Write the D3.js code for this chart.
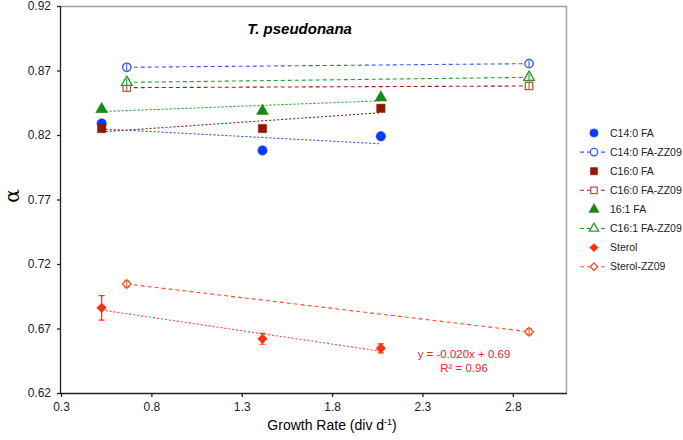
<!DOCTYPE html>
<html>
<head>
<meta charset="utf-8">
<script src="https://cdn.jsdelivr.net/npm/d3@7"></script>
<style>
  body { margin: 0; background: #fff; }
  svg { font-family: "Liberation Sans", Arial, sans-serif; }
</style>
</head>
<body>
<svg width="683" height="440"></svg>
<script>
// growth rates (div d-1)
var xThis = [0.525, 1.415, 2.07];
var xZZ09 = [0.664, 2.89];

// fractionation factor alpha
var c140 = [0.829, 0.808, 0.819];
var c140zz = [0.8725, 0.8753];
var c160 = [0.825, 0.825, 0.8407];
var c160zz = [0.8567, 0.858];
var c161 = [0.840, 0.8386, 0.849];
var c161zz = [0.8608, 0.8647];
var sterol = [0.686, 0.662, 0.6546];
var sterolzz = [0.7045, 0.6675];

// error bars
var sterolErr = [0.0095, 0.0042, 0.0035];
var zzErr = [0.0022, 0.0022];

var xTicks = [0.3, 0.8, 1.3, 1.8, 2.3, 2.8];
var yTicks = [0.62, 0.67, 0.72, 0.77, 0.82, 0.87, 0.92];

var series = [
  { name: 'C14:0 FA', x: xThis, y: c140, shape: 'circle', fill: '#0a3cf5', stroke: '#0a3cf5', line: '#2a4ee0', dash: '2,2', open: false },
  { name: 'C14:0 FA-ZZ09', x: xZZ09, y: c140zz, err: zzErr, shape: 'circle', fill: '#fff', stroke: '#3a5ce8', line: '#3a5ce8', dash: '4,3', open: true },
  { name: 'C16:0 FA', x: xThis, y: c160, shape: 'square', fill: '#8f1a00', stroke: '#8f1a00', line: '#8f1a00', dash: '2,2', open: false },
  { name: 'C16:0 FA-ZZ09', x: xZZ09, y: c160zz, err: zzErr, shape: 'square', fill: '#fff', stroke: '#b85a48', line: '#9a2010', dash: '4,3', open: true },
  { name: '16:1 FA', x: xThis, y: c161, shape: 'triangle', fill: '#158a15', stroke: '#158a15', line: '#20a020', dash: '2,2', open: false },
  { name: 'C16:1 FA-ZZ09', x: xZZ09, y: c161zz, err: zzErr, shape: 'triangle', fill: '#fff', stroke: '#2a9a2a', line: '#2a9a2a', dash: '4,3', open: true },
  { name: 'Sterol', x: xThis, y: sterol, err: sterolErr, shape: 'diamond', fill: '#ff3010', stroke: '#ff3010', line: '#f04a30', dash: '2,2', open: false },
  { name: 'Sterol-ZZ09', x: xZZ09, y: sterolzz, err: zzErr, shape: 'diamond', fill: '#fff', stroke: '#f0502a', line: '#f0502a', dash: '4,3', open: true }
];

var svg = d3.select('svg'),
    margin = { top: 6, right: 116, bottom: 47, left: 61 },
    width = +svg.attr('width') - margin.left - margin.right,
    height = +svg.attr('height') - margin.top - margin.bottom,
    g = svg.append('g').attr('transform', 'translate(' + margin.left + ',' + margin.top + ')');

var x = d3.scaleLinear().domain([0.3, 3.1]).range([0, width]);
var y = d3.scaleLinear().domain([0.62, 0.92]).range([height, 0]);

// frame (top and right in grey)
g.append('path')
    .attr('d', 'M0,0.5H' + (width - 0.5) + 'V' + height)
    .attr('fill', 'none')
    .attr('stroke', '#a0a0a0')
    .attr('stroke-width', 1.5);

g.append('g')
    .attr('class', 'axis axis--x')
    .attr('transform', 'translate(0,' + height + ')')
    .call(d3.axisBottom(x).tickValues(xTicks).tickSize(4).tickPadding(5).tickFormat(d3.format('.1f')))
    .call(function(a) { a.select('.domain').attr('d', 'M0,0.5H' + width); });

g.append('g')
    .attr('class', 'axis axis--y')
    .call(d3.axisLeft(y).tickValues(yTicks).tickSize(4).tickPadding(6).tickFormat(d3.format('.2f')))
    .call(function(a) { a.select('.domain').attr('d', 'M-0.5,0V' + height); });

svg.selectAll('.axis text').attr('font-size', 12).attr('fill', '#222');
svg.selectAll('.axis line, .axis .domain').attr('stroke', '#222').attr('stroke-width', 1.3);

// linear fit for each series, drawn over the range of its x values
function fit(xs, ys) {
  var mx = d3.mean(xs), my = d3.mean(ys), sxy = 0, sxx = 0;
  xs.forEach(function(v, i) { sxy += (v - mx) * (ys[i] - my); sxx += (v - mx) * (v - mx); });
  var b = sxy / sxx, a = my - b * mx;
  var ext = d3.extent(xs);
  return [[ext[0], a + b * ext[0]], [ext[1], a + b * ext[1]]];
}

var line = d3.line()
    .x(function(d) { return x(d[0]); })
    .y(function(d) { return y(d[1]); });

series.forEach(function(s) {
  g.append('path')
      .datum(fit(s.x, s.y))
      .attr('d', line)
      .attr('fill', 'none')
      .attr('stroke', s.line)
      .attr('stroke-width', 1.1)
      .attr('stroke-dasharray', s.dash);
});

var symbolType = {
  circle: d3.symbolCircle,
  square: d3.symbolSquare,
  triangle: d3.symbolTriangle,
  diamond: d3.symbolDiamond2
};
var symbolSize = { circle: 70, square: 70, triangle: 62, diamond: 60 };

function drawSymbol(sel, s, scale) {
  var k = (scale || 1) * (s.open ? 0.8 : 1);
  sel.append('path')
      .attr('d', d3.symbol().type(symbolType[s.shape]).size(symbolSize[s.shape] * k))
      .attr('fill', s.fill)
      .attr('stroke', s.stroke)
      .attr('stroke-width', s.open ? 1.3 : 0.5);
}

series.forEach(function(s) {
  s.x.forEach(function(xv, i) {
    var pg = g.append('g').attr('transform', 'translate(' + x(xv) + ',' + y(s.y[i]) + ')');
    if (s.err) {
      var e = s.err[i];
      var top = y(s.y[i] + e) - y(s.y[i]), bot = y(s.y[i] - e) - y(s.y[i]);
      pg.append('path')
          .attr('d', 'M0,' + top + 'V' + bot + 'M-3,' + top + 'H3M-3,' + bot + 'H3')
          .attr('stroke', s.stroke)
          .attr('stroke-width', 1.2)
          .attr('fill', 'none');
    }
    drawSymbol(pg, s);
    if (s.err && s.open) {
      pg.append('path')
          .attr('d', 'M0,-3.5V3.5')
          .attr('stroke', s.stroke)
          .attr('stroke-width', 1.1);
    }
  });
});

// title
g.append('text')
    .attr('x', x(1.62))
    .attr('y', 28)
    .attr('text-anchor', 'middle')
    .attr('font-size', 15)
    .attr('font-weight', 'bold')
    .attr('font-style', 'italic')
    .text('T. pseudonana');

// regression equation for sterol
var eq = g.append('text')
    .attr('fill', '#e8262a')
    .attr('font-size', 11.5)
    .attr('text-anchor', 'middle');
eq.append('tspan').attr('x', x(2.53)).attr('y', y(0.647)).text('y = -0.020x + 0.69');
eq.append('tspan').attr('x', x(2.53)).attr('y', y(0.6363)).text('R² = 0.96');

// axis titles
svg.append('text')
    .attr('transform', 'translate(19,' + (margin.top + 190) + ') rotate(-90)')
    .attr('text-anchor', 'middle')
    .attr('font-size', 20)
    .attr('font-family', '"DejaVu Serif", serif')
    .text('α');

var xl = svg.append('text')
    .attr('x', margin.left + x(1.8))
    .attr('y', 430)
    .attr('text-anchor', 'middle')
    .attr('font-size', 14)
    .text('Growth Rate (div d');
xl.append('tspan').attr('dy', -5).attr('font-size', 9).text('-1');
xl.append('tspan').attr('dy', 5).text(')');

// legend
var legend = svg.append('g').attr('transform', 'translate(594,133)');
series.forEach(function(s, i) {
  var lg = legend.append('g').attr('transform', 'translate(0,' + (i * 19.1) + ')');
  if (s.open) {
    lg.append('line')
        .attr('x1', -14).attr('x2', 12)
        .attr('stroke', s.line)
        .attr('stroke-width', 1.1)
        .attr('stroke-dasharray', '4,3');
  }
  drawSymbol(lg, s, 0.75);
  lg.append('text')
      .attr('x', 16)
      .attr('dy', '0.35em')
      .attr('font-size', 10.5)
      .attr('fill', '#222')
      .text(s.name);
});
</script>
</body>
</html>
